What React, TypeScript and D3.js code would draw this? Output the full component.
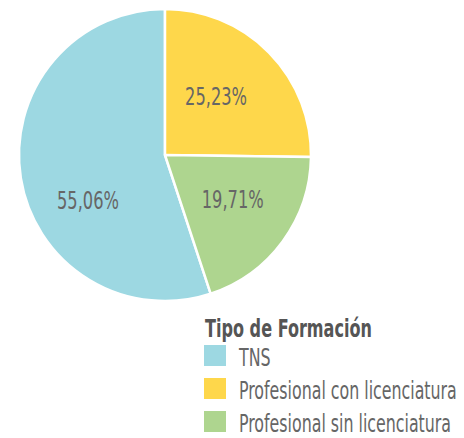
import React, { useLayoutEffect, useRef, useState } from "react";
import * as d3 from "d3";

const categories = ["TNS", "Profesional con licenciatura", "Profesional sin licenciatura"];
const values = [55.06, 25.23, 19.71];
const valueLabels = ["55,06%", "25,23%", "19,71%"];
const colors = ["#9dd8e2", "#fed74b", "#aed58f"];
const legendTitle = "Tipo de Formación";

const W = 464;
const H = 438;
const cx = 165;
const cy = 155;
const R = 146;
const FONT = "'Liberation Sans Narrow', 'Arial Narrow', 'DejaVu Sans Condensed', sans-serif";

export default function App() {
  const measureRef = useRef<SVGTextElement>(null);
  const [k, setK] = useState(0.8);
  useLayoutEffect(() => {
    if (measureRef.current) {
      const len = measureRef.current.getComputedTextLength();
      if (len > 0) setK(218 / len);
    }
  }, []);

  const total = d3.sum(values);
  const a0 = (2 * Math.PI * (total - values[0])) / total;
  const pie = d3
    .pie<number>()
    .sort(null)
    .value((d) => d)
    .startAngle(a0)
    .endAngle(a0 + 2 * Math.PI);
  const arcs = pie(values);
  const arc = d3.arc<d3.PieArcDatum<number>>().innerRadius(0).outerRadius(R);
  const nudge = [-21, -4.5, -3];
  const labelR = [89, 78, 81];

  return (
    <svg width={W} height={H} style={{ position: "absolute", left: 0, top: 0, background: "#fff" }}>
      <g transform={`translate(${cx},${cy})`}>
        {arcs.map((a, i) => (
          <path key={i} d={arc(a) || ""} fill={colors[i]} stroke="#fff" strokeWidth={2.5} strokeLinejoin="round" />
        ))}
        {arcs.map((a, i) => {
          const mid = (a.startAngle + a.endAngle) / 2 + (nudge[i] * Math.PI) / 180;
          const [x, y] = d3.pointRadial(mid, labelR[i]);
          return (
            <text
              key={i}
              x={x}
              y={y + 9}
              textAnchor="middle"
              fontFamily={FONT}
              fontSize={25}
              fill="#666"
              textLength={62}
              lengthAdjust="spacingAndGlyphs"
            >
              {valueLabels[i]}
            </text>
          );
        })}
      </g>
      <text ref={measureRef} x={0} y={-100} fontFamily={FONT} fontSize={24} visibility="hidden">
        {categories[1]}
      </text>
      <g transform="translate(204,0)">
        <text x={1} y={337} fontFamily={FONT} fontSize={24} fontWeight="bold" fill="#555" textLength={167} lengthAdjust="spacingAndGlyphs">
          {legendTitle}
        </text>
        {categories.map((c, i) => (
          <g key={c} transform={`translate(0,${345 + i * 33})`}>
            <rect x={0} y={0} width={22} height={21} fill={colors[i]} />
            <g transform={`translate(35,21) scale(${k},1)`}>
              <text x={0} y={0} fontFamily={FONT} fontSize={24} fill="#666">
                {c}
              </text>
            </g>
          </g>
        ))}
      </g>
    </svg>
  );
}
